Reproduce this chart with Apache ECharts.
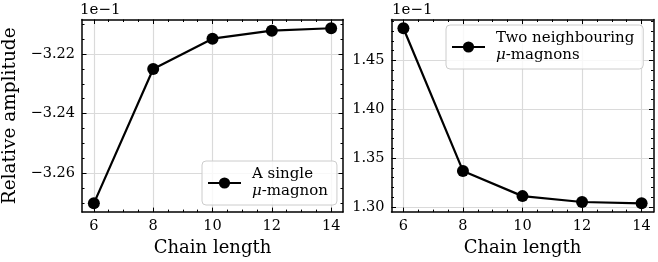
<!DOCTYPE html>
<html>
<head>
<meta charset="utf-8">
<script src="https://cdn.jsdelivr.net/npm/echarts@6/dist/echarts.min.js"></script>
<style>html,body{margin:0;padding:0;background:#fff}#c{width:658px;height:262px}</style>
</head>
<body>
<div id="c"></div>
<script>
// ---- data (values as read on the axes, which carry a 1e-1 multiplier) ----
const chainLengths = [6, 8, 10, 12, 14];
const singleMagnon = [-3.2702, -3.2250, -3.2148, -3.2121, -3.2113];
const pairMagnons = [1.4830, 1.3368, 1.3110, 1.3050, 1.3036];

const seriesNames = ['A single μ-magnon', 'Two neighbouring μ-magnons'];
const legendLines = [['A single', '-magnon'], ['Two neighbouring', '-magnons']];
const xTitle = 'Chain length';
const yTitle = 'Relative amplitude';
const offsetText = '1e\u22121';

const xMajorTicks = [6, 8, 10, 12, 14];
const xMinorTicks = [6.5, 7, 7.5, 8.5, 9, 9.5, 10.5, 11, 11.5, 12.5, 13, 13.5];
const leftMajorTicks = [-3.26, -3.24, -3.22];
const leftMinorTicks = [-3.270, -3.265, -3.255, -3.250, -3.245, -3.235, -3.230, -3.225, -3.215, -3.210];
const rightMajorTicks = [1.30, 1.35, 1.40, 1.45];
const rightMinorTicks = [1.31, 1.32, 1.33, 1.34, 1.36, 1.37, 1.38, 1.39, 1.41, 1.42, 1.43, 1.44, 1.46, 1.47, 1.48, 1.49];

const FONT = 'DejaVu Serif';

function padExtent(vals) {
  const lo = Math.min(...vals), hi = Math.max(...vals), r = hi - lo;
  return [lo - 0.05 * r, hi + 0.05 * r];
}
const fmtY = v => Number(v).toFixed(2).replace('-', '\u2212');
const fmtX = v => String(Math.round(v));

function axisSet(dim, gridIndex, ext, majors, minors, withName) {
  const sides = dim === 'x' ? ['bottom', 'top'] : ['left', 'right'];
  const out = [];
  sides.forEach((pos, si) => {
    out.push({
      type: 'value', gridIndex, position: pos, offset: 0,
      min: ext[0], max: ext[1],
      axisLine: { show: true, onZero: false, lineStyle: { color: '#000', width: 1.5 } },
      axisTick: { show: true, inside: true, length: 4.5, customValues: majors, lineStyle: { color: '#000', width: 1 } },
      axisLabel: si === 0 ? { show: true, customValues: majors, formatter: dim === 'x' ? fmtX : fmtY, margin: 7,
        fontFamily: FONT, fontSize: 14.5, color: '#000' } : { show: false },
      splitLine: si === 0 ? { show: true, lineStyle: { color: '#dadada', width: 1.2 } } : { show: false },
      name: (si === 0 && withName) ? (dim === 'x' ? xTitle : yTitle) : '',
      nameLocation: 'middle',
      nameGap: dim === 'x' ? 25 : 62,
      nameTextStyle: { fontFamily: FONT, fontSize: dim === 'x' ? 18 : 18.5, color: '#000',
        verticalAlign: dim === 'x' ? 'top' : 'bottom' },
      z: 3
    });
    out.push({
      type: 'value', gridIndex, position: pos, offset: 0,
      min: ext[0], max: ext[1],
      axisLine: { show: false, onZero: false },
      axisTick: { show: true, inside: true, length: 2.5, customValues: minors, lineStyle: { color: '#000', width: 1 } },
      axisLabel: { show: false },
      splitLine: { show: false },
      z: 3
    });
  });
  return out;
}

const xExt = padExtent(chainLengths);
const leftExt = padExtent(singleMagnon);
const rightExt = padExtent(pairMagnons);

const xAxes = [...axisSet('x', 0, xExt, xMajorTicks, xMinorTicks, true), ...axisSet('x', 1, xExt, xMajorTicks, xMinorTicks, true)];
const yAxes = [...axisSet('y', 0, leftExt, leftMajorTicks, leftMinorTicks, true), ...axisSet('y', 1, rightExt, rightMajorTicks, rightMinorTicks, false)];

function legendRich() {
  return {
    a: { fontFamily: FONT, fontSize: 15, color: '#000', lineHeight: 17 },
    m: { fontFamily: FONT, fontSize: 15, fontStyle: 'italic', color: '#000', lineHeight: 17 }
  };
}
function legendCfg(idx, left, top) {
  return {
    show: true, data: [seriesNames[idx]], left, top, orient: 'vertical', z: 20,
    itemWidth: 33, itemHeight: 14, padding: [6, 9, 6, 5],
    backgroundColor: 'rgba(255,255,255,0.8)', borderColor: '#cccccc', borderWidth: 1, borderRadius: 4,
    formatter: () => '{a|' + legendLines[idx][0] + '}\n{m|\u03bc}{a|' + legendLines[idx][1] + '}',
    textStyle: { rich: legendRich(), padding: [0, 0, 0, 6] }
  };
}

const lineSeries = (name, vals, xi, yi) => ({
  name, type: 'line', xAxisIndex: xi, yAxisIndex: yi,
  data: chainLengths.map((x, i) => [x, vals[i]]),
  symbol: 'circle', symbolSize: 12,
  itemStyle: { color: '#000' },
  lineStyle: { color: '#000', width: 2.2 },
  clip: false, z: 10
});

const chart = echarts.init(document.getElementById('c'), null, { renderer: 'canvas' });
chart.setOption({
  animation: false,
  grid: [
    { left: 79, top: 19.5, width: 264, height: 194, containLabel: false },
    { left: 391.5, top: 19.5, width: 262, height: 194, containLabel: false }
  ],
  xAxis: xAxes,
  yAxis: yAxes,
  legend: [legendCfg(0, 202, 161), legendCfg(1, 446, 25)],
  graphic: [
    { type: 'text', left: 80, top: 3, style: { text: offsetText, font: '15px "DejaVu Serif"', fill: '#000' } },
    { type: 'text', left: 392, top: 3, style: { text: offsetText, font: '15px "DejaVu Serif"', fill: '#000' } }
  ],
  series: [
    lineSeries(seriesNames[0], singleMagnon, 0, 0),
    lineSeries(seriesNames[1], pairMagnons, 4, 4)
  ]
});
</script>
</body>
</html>
